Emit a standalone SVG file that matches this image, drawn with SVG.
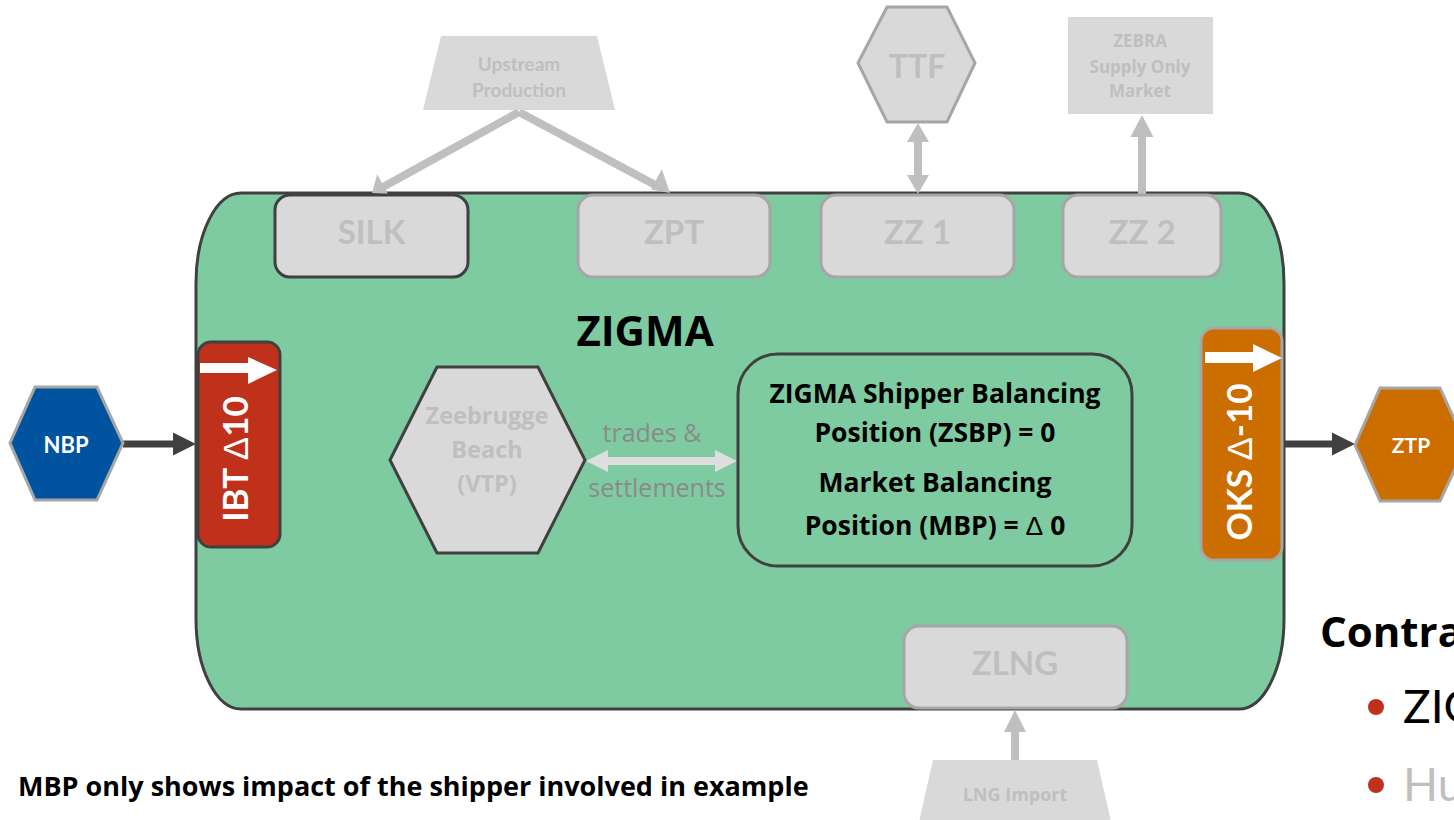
<svg xmlns="http://www.w3.org/2000/svg" width="1454" height="820" viewBox="0 0 1454 820">
<style>
  text { font-family: "Lato", "Open Sans", "Liberation Sans", sans-serif; }
  .os { font-family: "Open Sans", "Lato", "Liberation Sans", sans-serif; }
  .b { font-weight: bold; }
  .ghost { fill: #bfbfbf; font-weight: bold; text-anchor: middle; }
  .gbox { fill: #d9d9d9; stroke: #a6a6a6; stroke-width: 3; }
  .gboxd { fill: #d9d9d9; stroke: #404040; stroke-width: 3; }
  .wt { fill: #ffffff; font-weight: bold; text-anchor: middle; }
  .blk { fill: #000000; font-weight: bold; text-anchor: middle; }
  .delta { font-family: "Liberation Sans", "DejaVu Sans", sans-serif; font-weight: normal; }
  .garrow { stroke: #bfbfbf; stroke-width: 8; fill: none; }
  .gfill { fill: #bfbfbf; }
  .darrow { stroke: #404040; stroke-width: 7; fill: none; }
  .dfill { fill: #404040; }
  .lbl { fill: #8a8a8a; text-anchor: middle; }
</style>
<rect x="0" y="0" width="1454" height="820" fill="#ffffff"/>

<!-- main ZIGMA zone -->
<g id="zigma">
  <path d="M 241,193 H 1239 A 45 90 0 0 1 1284,283 V 619 A 45 90 0 0 1 1239,709 H 241 A 45 90 0 0 1 196,619 V 283 A 45 90 0 0 1 241,193 Z" fill="#7fcba1" stroke="#404040" stroke-width="3"/>
  <text x="645" y="346" class="blk os" font-size="42">ZIGMA</text>
</g>

<!-- connectors -->
<g id="connectors">
  <!-- Upstream to SILK / ZPT -->
  <line x1="519" y1="112" x2="382.5" y2="187.2" class="garrow"/>
  <polygon points="372,193 377.2,174.3 388.3,194.4" class="gfill"/>
  <line x1="519" y1="112" x2="659.4" y2="187.3" class="garrow"/>
  <polygon points="670,193 651,189.5 661.8,169.3" class="gfill"/>
  <!-- TTF <-> ZZ1 -->
  <line x1="918" y1="139" x2="918" y2="178" stroke="#bfbfbf" stroke-width="8"/>
  <polygon points="918,123 929,142 907,142" class="gfill"/>
  <polygon points="918,194 929,175 907,175" class="gfill"/>
  <!-- ZZ2 -> ZEBRA -->
  <line x1="1142" y1="194" x2="1142" y2="134" stroke="#bfbfbf" stroke-width="8"/>
  <polygon points="1142,115 1153.5,137 1130.5,137" class="gfill"/>
  <!-- LNG Import -> ZLNG -->
  <line x1="1015" y1="760" x2="1015" y2="728" stroke="#bfbfbf" stroke-width="8"/>
  <polygon points="1015,710 1026,732 1004,732" class="gfill"/>
  <!-- NBP -> IBT -->
  <line x1="123" y1="444" x2="176" y2="444" class="darrow"/>
  <polygon points="173,432.5 196,444 173,455.5" class="dfill"/>
  <!-- OKS -> ZTP -->
  <line x1="1284" y1="444" x2="1335" y2="444" class="darrow"/>
  <polygon points="1332,432.5 1355,444 1332,455.5" class="dfill"/>
  <!-- VTP <-> ZSBP -->
  <line x1="604" y1="461" x2="719" y2="461" stroke="#dedede" stroke-width="8"/>
  <polygon points="586,461 608,450 608,472" fill="#dedede"/>
  <polygon points="737,461 715,450 715,472" fill="#dedede"/>
  <text x="652" y="442" font-size="25" class="lbl os">trades &amp;</text>
  <text x="657" y="497" font-size="25" class="lbl os">settlements</text>
</g>

<!-- top entry points -->
<g id="silk">
  <rect x="275" y="195" width="193" height="82" rx="15" class="gboxd"/>
  <text x="371.5" y="244" class="ghost" font-size="33">SILK</text>
</g>
<g id="zpt">
  <rect x="578" y="195" width="192" height="82" rx="15" class="gbox"/>
  <text x="674" y="244" class="ghost" font-size="33">ZPT</text>
</g>
<g id="zz1">
  <rect x="821" y="195" width="193" height="82" rx="15" class="gbox"/>
  <text x="917.5" y="244" class="ghost" font-size="33">ZZ 1</text>
</g>
<g id="zz2">
  <rect x="1063" y="195" width="158" height="82" rx="15" class="gbox"/>
  <text x="1142" y="244" class="ghost" font-size="33">ZZ 2</text>
</g>
<g id="zlng">
  <rect x="904" y="626" width="223" height="82" rx="15" class="gbox"/>
  <text x="1015" y="675" class="ghost" font-size="33">ZLNG</text>
</g>

<!-- external sources -->
<g id="upstream">
  <polygon points="441,36 597,36 615,110 423,110" fill="#d9d9d9"/>
  <text x="519" y="71" class="ghost" font-size="19">Upstream</text>
  <text x="519" y="97" class="ghost" font-size="19">Production</text>
</g>
<g id="ttf">
  <polygon points="858,63 887,7 947,7 975,63 947,122 887,122" class="gbox"/>
  <text x="917" y="78" class="ghost" font-size="32">TTF</text>
</g>
<g id="zebra">
  <rect x="1068" y="17" width="145" height="97" fill="#d9d9d9"/>
  <text x="1140" y="47" class="ghost os" font-size="17">ZEBRA</text>
  <text x="1140" y="73" class="ghost os" font-size="17">Supply Only</text>
  <text x="1140" y="97" class="ghost os" font-size="17">Market</text>
</g>
<g id="lng-import">
  <polygon points="933,760 1097,760 1112,826 918,826" fill="#d9d9d9"/>
  <text x="1015" y="801" class="ghost os" font-size="18">LNG Import</text>
</g>

<!-- VTP -->
<g id="vtp">
  <polygon points="390,460 437,367 538,367 585,460 538,553 437,553" class="gboxd"/>
  <text x="487" y="424" class="ghost os" font-size="23.5">Zeebrugge</text>
  <text x="487" y="458" class="ghost os" font-size="23.5">Beach</text>
  <text x="487" y="492" class="ghost os" font-size="23.5">(VTP)</text>
</g>

<!-- ZSBP -->
<g id="zsbp">
  <rect x="738" y="354" width="394" height="212" rx="40" fill="#7fcba1" stroke="#404040" stroke-width="3"/>
  <text x="935" y="403" class="blk os" font-size="26.5">ZIGMA Shipper Balancing</text>
  <text x="935" y="442" class="blk os" font-size="26.5">Position (ZSBP) = 0</text>
  <text x="935" y="492" class="blk os" font-size="26.5">Market Balancing</text>
  <text x="935" y="535" class="blk os" font-size="26.5">Position (MBP) = <tspan class="delta">Δ</tspan> 0</text>
</g>

<!-- NBP -->
<g id="nbp">
  <polygon points="10,443 35,387 97,387 123,443 97,500 35,500" fill="#00539f" stroke="#a6a6a6" stroke-width="3"/>
  <text x="66" y="453" class="wt" font-size="22">NBP</text>
</g>

<!-- ZTP -->
<g id="ztp">
  <polygon points="1355,445 1380,388 1440,388 1466,445 1440,501 1380,501" fill="#cc6d00" stroke="#a6a6a6" stroke-width="3"/>
  <text x="1411" y="453" class="wt" font-size="21">ZTP</text>
</g>

<!-- IBT -->
<g id="ibt">
  <rect x="198" y="342" width="82" height="205" rx="13" fill="#c0311b" stroke="#404040" stroke-width="3"/>
  <rect x="200" y="363" width="50" height="10" fill="#ffffff"/>
  <polygon points="248,357 277,370 248,384" fill="#ffffff"/>
  <text transform="translate(248,459) rotate(-90)" class="wt" font-size="35">IBT <tspan class="delta">Δ</tspan>10</text>
</g>

<!-- OKS -->
<g id="oks">
  <rect x="1201" y="328" width="81" height="232" rx="13" fill="#cc6d00" stroke="#a6a6a6" stroke-width="3"/>
  <rect x="1205" y="352" width="50" height="11" fill="#ffffff"/>
  <polygon points="1253,344 1282,358 1253,372" fill="#ffffff"/>
  <text transform="translate(1252,462) rotate(-90)" class="wt" font-size="35">OKS <tspan class="delta">Δ</tspan>-10</text>
</g>

<!-- notes -->
<g id="note">
  <text x="18" y="796" font-size="27" class="b os" fill="#000000">MBP only shows impact of the shipper involved in example</text>
</g>
<g id="side-text">
  <text x="1320" y="647" font-size="42" class="b os" fill="#000000">Contra</text>
  <circle cx="1376" cy="707" r="8" fill="#c0311b"/>
  <text x="1403" y="723" font-size="46" fill="#000000">ZIG</text>
  <circle cx="1376" cy="785" r="8" fill="#c0311b"/>
  <text x="1403" y="801" font-size="46" fill="#bfbfbf">Hu</text>
</g>
</svg>
